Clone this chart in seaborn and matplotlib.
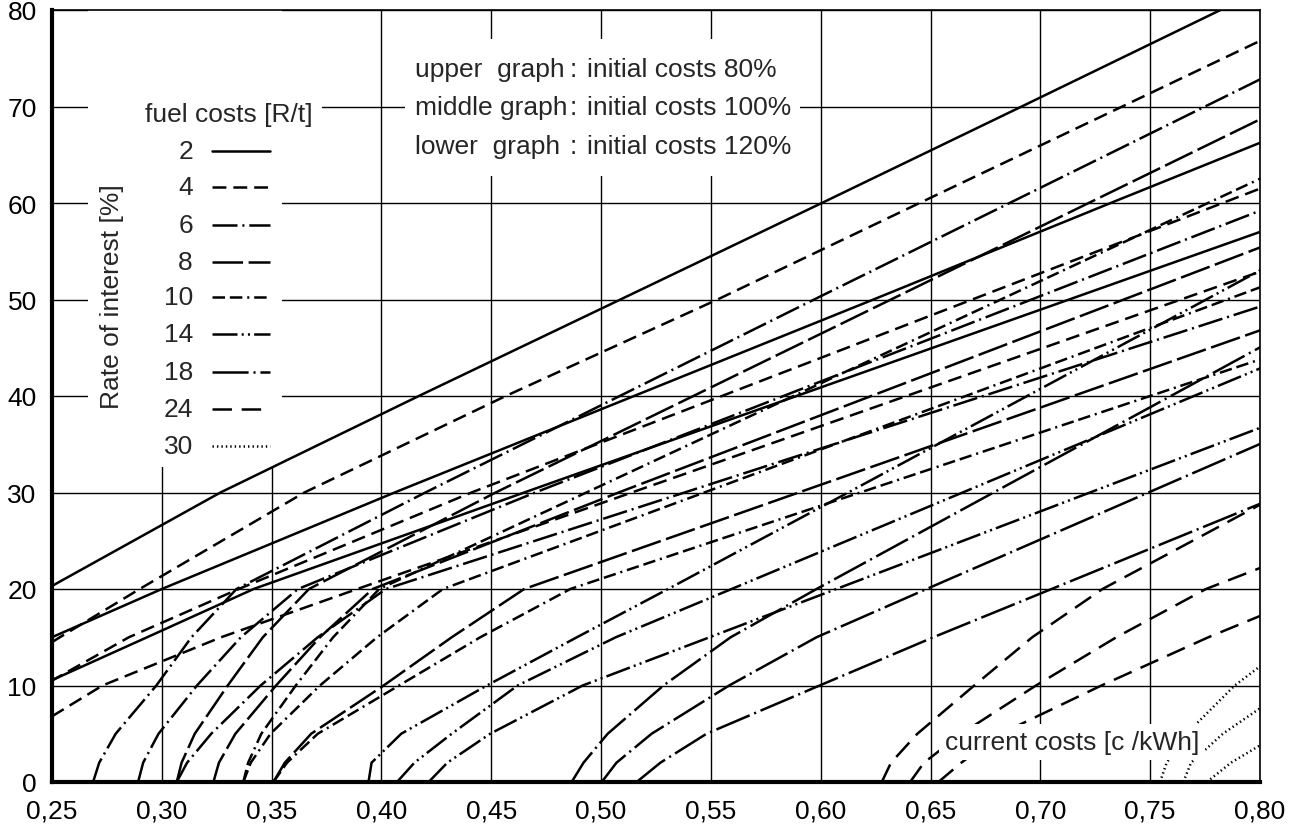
import matplotlib
matplotlib.use("Agg")
import matplotlib.pyplot as plt
import seaborn as sns
from matplotlib.patches import Rectangle

sns.set_theme(style="white")
plt.rcParams['font.family'] = ['Liberation Sans', 'DejaVu Sans']
plt.rcParams['lines.scale_dashes'] = False

# rate of interest levels [%] at which the current costs of each curve were read
RATES = [0, 2, 5, 10, 15, 20, 30, 40, 50, 60, 70, 80]
FUELS = [2, 4, 6, 8, 10, 14, 18, 24, 30]
GRAPHS = ["upper (80%)", "middle (100%)", "lower (120%)"]

# current costs [c/kWh] per fuel cost, one list per graph (upper, middle, lower)
COST_F2 = [[0.150, 0.152, 0.158, 0.178, 0.208, 0.2475, 0.3267, 0.4170, 0.5088, 0.6005, 0.6915, 0.7820],
           [0.167, 0.170, 0.181, 0.211, 0.250, 0.300, 0.406, 0.515, 0.624, 0.732, 0.841],
           [0.1806, 0.1886, 0.2086, 0.2446, 0.2933, 0.3418, 0.4650, 0.5890, 0.7131, 0.8372]]
COST_F4 = [[0.188, 0.192, 0.199, 0.218, 0.2536, 0.2899, 0.3649, 0.4566, 0.5530, 0.6450, 0.7373, 0.8295],
           [0.202, 0.205, 0.216, 0.246, 0.285, 0.335, 0.441, 0.555, 0.669, 0.783, 0.897],
           [0.209, 0.217, 0.237, 0.273, 0.327, 0.389, 0.514, 0.639, 0.764, 0.889]]
COST_F6 = [[0.2687, 0.2715, 0.2790, 0.2975, 0.3135, 0.3340, 0.4200, 0.5085, 0.5970, 0.6860, 0.7750, 0.8640],
           [0.2892, 0.2915, 0.2985, 0.3160, 0.3360, 0.3620, 0.4700, 0.5830, 0.6960, 0.8090],
           [0.3068, 0.3115, 0.3225, 0.3450, 0.3710, 0.4020, 0.5380, 0.6740, 0.8100]]
COST_F8 = [[0.3068, 0.3090, 0.3150, 0.3300, 0.3460, 0.3670, 0.4520, 0.5420, 0.6320, 0.7220, 0.8120],
           [0.3235, 0.3260, 0.3335, 0.3520, 0.3720, 0.3960, 0.5080, 0.6230, 0.7380, 0.8530],
           [0.3508, 0.3560, 0.3680, 0.4010, 0.4320, 0.4650, 0.5900, 0.7150, 0.8400]]
COST_F10 = [[0.3371, 0.3393, 0.3453, 0.3610, 0.3780, 0.3990, 0.4933, 0.5876, 0.6820, 0.7763, 0.8706],
            [0.3371, 0.3405, 0.3495, 0.3720, 0.3980, 0.4280, 0.5470, 0.6660, 0.7850, 0.9040],
            [0.3508, 0.3570, 0.3710, 0.4080, 0.4450, 0.4860, 0.6180, 0.7500, 0.8820]]
COST_F14 = [[0.3941, 0.3955, 0.4090, 0.4480, 0.4890, 0.5305, 0.6125, 0.6940, 0.7755, 0.8570],
            [0.4071, 0.4150, 0.4320, 0.4620, 0.5067, 0.5594, 0.6646, 0.7699, 0.8752],
            [0.4215, 0.4300, 0.4495, 0.4916, 0.5494, 0.6071, 0.7226, 0.8381]]
COST_F18 = [[0.4866, 0.4920, 0.5030, 0.5284, 0.5590, 0.5981, 0.6787, 0.7594, 0.8400],
            [0.5003, 0.5070, 0.5230, 0.5583, 0.5981, 0.6482, 0.7492, 0.8502],
            [0.5162, 0.5270, 0.5480, 0.5995, 0.6513, 0.7051, 0.8126]]
COST_F24 = [[0.6278, 0.6320, 0.6440, 0.6699, 0.6963, 0.7283, 0.8104],
            [0.6407, 0.6470, 0.6640, 0.6980, 0.7346, 0.7754, 0.8886],
            [0.6536, 0.6640, 0.6820, 0.7278, 0.7765, 0.8298]]
COST_F30 = [[0.7545, 0.7575, 0.7665, 0.7885, 0.8175],
            [0.7651, 0.7686, 0.7831, 0.8151],
            [0.7758, 0.7868, 0.8088]]

COSTS = [COST_F2, COST_F4, COST_F6, COST_F8, COST_F10, COST_F14, COST_F18, COST_F24, COST_F30]

X_TICKS = [0.25, 0.30, 0.35, 0.40, 0.45, 0.50, 0.55, 0.60, 0.65, 0.70, 0.75, 0.80]
X_LABELS = ["0,25", "0,30", "0,35", "0,40", "0,45", "0,50", "0,55", "0,60", "0,65", "0,70", "0,75", "0,80"]
Y_TICKS = [0, 10, 20, 30, 40, 50, 60, 70, 80]

STYLES = {
    2: '-',
    4: (0, (10, 5)),
    6: (0, (18, 3.5, 1.5, 3.5)),
    8: (0, (22, 4)),
    10: (0, (9, 3.5, 9, 3.5, 1.5, 3.5)),
    14: (0, (18, 3, 1.5, 3, 1.5, 3)),
    18: (0, (26, 3.5, 1.5, 3.5)),
    24: (0, (14, 7)),
    30: (0, (1, 2.2)),
}
FS = 19

fig = plt.figure(figsize=(12.98, 8.37), dpi=100)
ax = fig.add_axes([52 / 1298, 54 / 837, 1208 / 1298, 772 / 837])

for fuel, per_graph in zip(FUELS, COSTS):
    for costs in per_graph:
        sns.lineplot(x=costs, y=RATES[:len(costs)], ax=ax, color='black', linewidth=1.8,
                     linestyle=STYLES[fuel], sort=False, estimator=None, legend=False,
                     zorder=2)

ax.set_xlim(0.25, 0.80)
ax.set_ylim(0, 80)
ax.set_xticks(X_TICKS)
ax.set_xticklabels(X_LABELS)
ax.set_yticks(Y_TICKS)
ax.set_yticklabels([str(v) for v in Y_TICKS])
ax.tick_params(axis='both', length=0, labelsize=FS, colors='black')
ax.tick_params(axis='x', pad=12)
ax.tick_params(axis='y', pad=11)
ax.set_xlabel("")
ax.set_ylabel("")
ax.set_axisbelow(True)
ax.grid(True, color='black', linewidth=1.0)
for side in ['left', 'bottom']:
    ax.spines[side].set_linewidth(3.0)
    ax.spines[side].set_color('black')
for side in ['top', 'right']:
    ax.spines[side].set_linewidth(1.2)
    ax.spines[side].set_color('black')

# white areas behind the legend and the note
ax.add_patch(Rectangle((0.0298, 0.408), 0.1606, 0.6, transform=ax.transAxes,
                       facecolor='white', edgecolor='none', zorder=1))
ax.add_patch(Rectangle((0.0298, 0.839), 0.1937, 0.052, transform=ax.transAxes,
                       facecolor='white', edgecolor='none', zorder=1))
ax.add_patch(Rectangle((0.2922, 0.785), 0.327, 0.177, transform=ax.transAxes,
                       facecolor='white', edgecolor='none', zorder=1))

# legend
ax.text(0.0770, 0.8653, "fuel costs [R/t]", transform=ax.transAxes, ha='left', va='center',
        fontsize=FS, zorder=3)
ROW_Y = [0.8177, 0.7707, 0.7215, 0.6740, 0.6282, 0.5803, 0.5315, 0.4832, 0.4352]
for fuel, yy in zip(FUELS, ROW_Y):
    ax.text(0.1167, yy, str(fuel), transform=ax.transAxes, ha='right', va='center',
            fontsize=FS, zorder=3)
    ax.plot([0.1325, 0.1805], [yy, yy], transform=ax.transAxes, color='black',
            linewidth=1.8, linestyle=STYLES[fuel], zorder=3)

ax.text(0.0497, 0.63, "Rate of interest [%]", transform=ax.transAxes, rotation=90,
        ha='center', va='center', fontsize=FS, zorder=3)

# note
NOTE_Y = [0.9236, 0.8744, 0.8238]
NOTE_L = ["upper  graph", "middle graph", "lower  graph"]
NOTE_R = ["initial costs 80%", "initial costs 100%", "initial costs 120%"]
for yy, l, r in zip(NOTE_Y, NOTE_L, NOTE_R):
    ax.text(0.3005, yy, l, transform=ax.transAxes, ha='left', va='center', fontsize=FS, zorder=3)
    ax.text(0.4288, yy, ":", transform=ax.transAxes, ha='left', va='center', fontsize=FS, zorder=3)
    ax.text(0.4429, yy, r, transform=ax.transAxes, ha='left', va='center', fontsize=FS, zorder=3)

ax.text(0.7392, 0.0518, "current costs [c /kWh]", transform=ax.transAxes, ha='left', va='center',
        fontsize=FS, zorder=4,
        bbox=dict(facecolor='white', edgecolor='none', pad=4))

fig.savefig("out.png", dpi=100)
